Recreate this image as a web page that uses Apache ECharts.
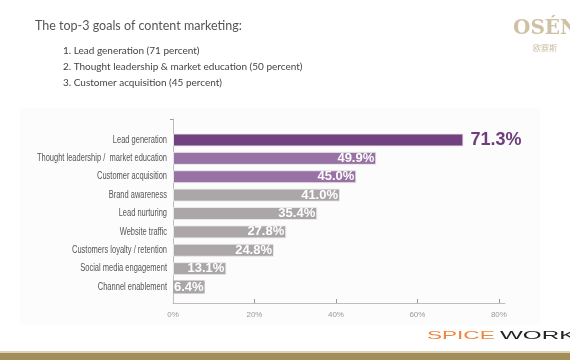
<!DOCTYPE html>
<html>
<head>
<meta charset="utf-8">
<script src="https://cdn.jsdelivr.net/npm/echarts@6/dist/echarts.min.js"></script>
<style>
html,body{margin:0;padding:0;background:#fff;}
#chart{width:570px;height:360px;}
</style>
</head>
<body>
<div id="chart"></div>
<script>
const categories = [
  "Lead generation",
  "Thought leadership /  market education",
  "Customer acquisition",
  "Brand awareness",
  "Lead nurturing",
  "Website traffic",
  "Customers loyalty / retention",
  "Social media engagement",
  "Channel enablement"
];
const values = [71.3, 49.9, 45.0, 41.0, 35.4, 27.8, 24.8, 13.1, 6.4];
const tickValues = [0, 20, 40, 60, 80];
const titleText = "The top-3 goals of content marketing:";
const bulletItems = [
  "1. Lead generation (71 percent)",
  "2. Thought leadership & market education (50 percent)",
  "3. Customer acquisition (45 percent)"
];

const chart = echarts.init(document.getElementById('chart'), null, {renderer: 'canvas'});
const X_MAX = 81.5;
const LEFT = 173;
const WIDTH = 332;

function barColor(i) {
  if (i === 0) return '#714180';
  if (i <= 2) return '#9872A4';
  return '#ABA7A8';
}

const seriesData = values.map((v, i) => {
  const item = { value: v, itemStyle: { color: barColor(i) } };
  if (i === 0) {
    item.label = { position: 'right', color: '#6E3F7B', fontSize: 18, distance: 7 };
  } else if (i === values.length - 1) {
    item.label = { position: 'insideLeft', distance: 0, backgroundColor: '#ABA7A8', padding: [0, 1, 0, 1] };
  }
  return item;
});

const graphics = [
  { type: 'rect', shape: { x: 20, y: 108, width: 520, height: 217 }, style: { fill: '#fcfcfc' }, z: -10, silent: true },
  { type: 'text', left: 35, top: 19, style: { text: titleText, fontSize: 12.5, fontFamily: 'Lato, sans-serif', fill: '#555' } },
  ...bulletItems.map((t, i) => ({
    type: 'text', left: 63, top: 45.5 + i * 16,
    style: { text: t, fontSize: 10, fontFamily: 'Lato, sans-serif', fill: '#444' }
  })),
  { type: 'text', x: 513, y: 19, style: { text: 'OSÉN', fontSize: 20, fontFamily: 'DejaVu Serif, serif', fontWeight: 'bold', fill: '#CFC2A4' } },
  { type: 'text', x: 533, y: 44, style: { text: '欧赛斯', fontSize: 8, fontFamily: 'Noto Sans CJK SC, sans-serif', fill: '#C9BDA1' } },
  { type: 'text', x: 427, y: 330, scaleX: 2.05, style: { text: 'SPICE', fontSize: 11, fontFamily: 'Liberation Sans, sans-serif', fill: '#F0843C' } },
  { type: 'text', x: 500, y: 330, scaleX: 2.2, style: { text: 'WORKS', fontSize: 11, fontFamily: 'Liberation Sans, sans-serif', fill: '#222' } },
  { type: 'rect', shape: { x: 0, y: 351, width: 570, height: 2 }, style: { fill: '#DCD2BA' }, silent: true },
  { type: 'rect', shape: { x: 0, y: 353, width: 570, height: 7 }, style: { fill: '#A28E59' }, silent: true }
];

const option = {
  animation: false,
  backgroundColor: '#fff',
  graphic: graphics,
  grid: [
    { left: LEFT, width: WIDTH, top: 130.8, height: 165.4 },
    { left: LEFT, width: WIDTH, top: 119, height: 184 }
  ],
  xAxis: [
    { gridIndex: 0, type: 'value', min: 0, max: X_MAX, show: false, splitLine: { show: false } },
    {
      gridIndex: 1, type: 'value', min: 0, max: X_MAX,
      axisLine: { show: true, lineStyle: { color: '#BDBDBD', width: 1 } },
      axisTick: { show: true, inside: true, length: 4, customValues: [20, 40, 60, 80], lineStyle: { color: '#9A9A9A' } },
      axisLabel: { customValues: tickValues, formatter: v => v + '%', fontSize: 8, color: '#999', margin: 8, fontFamily: 'Liberation Sans, sans-serif' },
      splitLine: { show: false }
    }
  ],
  yAxis: [
    {
      gridIndex: 0, type: 'category', data: categories, inverse: true,
      axisLine: { show: false }, axisTick: { show: false },
      axisLabel: { show: false }
    },
    {
      gridIndex: 1, type: 'value', min: 0, max: 1,
      axisLine: { show: true, lineStyle: { color: '#BDBDBD', width: 1 } },
      axisTick: { show: true, length: 3, customValues: [1], lineStyle: { color: '#9A9A9A' } },
      axisLabel: { show: false },
      splitLine: { show: false }
    }
  ],
  series: [{
    type: 'bar',
    xAxisIndex: 0, yAxisIndex: 0,
    data: seriesData,
    barWidth: 13,
    itemStyle: { borderColor: 'rgba(235,235,235,0.9)', borderWidth: 1 },
    label: {
      show: true, position: 'insideRight', distance: 2, overflow: 'none',
      formatter: p => p.value.toFixed(1) + '%',
      color: '#fff', fontSize: 13, fontWeight: 'bold',
      fontFamily: 'Liberation Sans, Arial, sans-serif'
    }
  }, {
    type: 'custom',
    xAxisIndex: 0, yAxisIndex: 0,
    data: categories.map((c, i) => [0, i]),
    silent: true,
    renderItem: (params, api) => {
      const pt = api.coord([0, api.value(1)]);
      return {
        type: 'text',
        x: pt[0] - 6,
        y: pt[1],
        scaleX: 0.75,
        style: {
          text: categories[params.dataIndex],
          align: 'right', verticalAlign: 'middle',
          fontSize: 10, fill: '#555',
          fontFamily: 'Liberation Sans, Arial, sans-serif'
        }
      };
    }
  }]
};
chart.setOption(option);
</script>
</body>
</html>
